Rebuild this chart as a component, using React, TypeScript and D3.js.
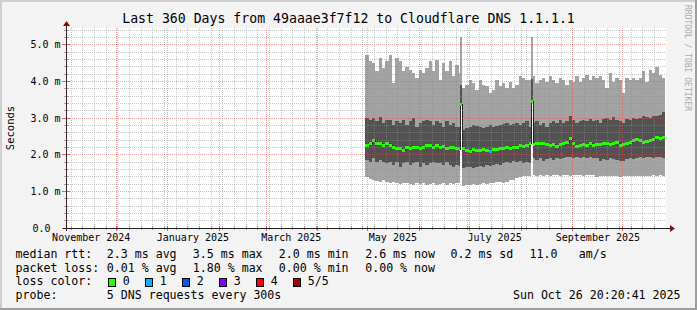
import React from 'react';
import * as d3 from 'd3';

const W = 697;
const H = 310;
const DAY = 86400000;
const START = Date.UTC(2024, 9, 31, 20, 20, 41);
const END = Date.UTC(2025, 9, 26, 20, 20, 41);
const DATA_START = Date.UTC(2025, 3, 29, 12);
const STEP_DAYS = 2;
const Y_MAX = 5.464;

// smoke top (max ping), ms
const hi = [4.73,4.55,4.50,4.28,4.64,4.37,4.55,4.73,3.96,4.64,4.55,4.28,4.41,4.32,4.23,4.09,4.32,4.23,4.37,4.55,4.28,4.60,
  4.05,4.50,4.28,4.55,4.14,4.46,4.23,3.82,3.91,4.05,3.96,3.77,4.05,3.91,3.87,3.68,3.77,4.05,3.87,3.96,3.82,4.00,3.82,3.91,
  4.14,4.09,4.05,4.05,4.14,3.96,4.05,4.09,4.00,4.14,4.05,3.96,4.09,4.05,3.91,4.05,4.00,4.14,4.00,4.09,4.19,4.05,4.14,
  4.09,4.14,4.05,3.82,4.23,4.00,4.09,4.05,3.68,4.09,4.05,4.09,4.05,4.09,4.28,4.00,4.32,4.23,4.41,4.19,4.09];
// inner smoke top
const smokeHi = [3.00,2.95,3.00,2.91,3.03,2.86,2.95,2.95,2.82,2.91,2.86,2.95,2.82,2.91,3.00,2.77,2.86,2.91,2.95,2.91,2.82,2.91,
  2.86,2.77,2.91,2.82,2.86,2.77,2.77,2.68,2.73,2.77,2.82,2.79,2.77,2.73,2.75,2.82,2.77,2.79,2.82,2.85,2.86,2.82,2.85,2.86,
  2.82,2.86,2.91,2.77,2.86,2.91,2.82,2.86,2.77,2.86,2.91,2.86,2.95,2.86,2.91,3.06,2.95,2.86,2.91,2.95,2.91,2.97,2.91,
  2.94,2.88,2.97,3.00,2.94,3.03,2.95,2.91,2.86,2.97,2.95,3.00,2.97,3.00,3.05,3.03,3.00,3.06,3.05,3.09,3.16];
// median rtt
const median = [2.27,2.32,2.41,2.32,2.32,2.27,2.32,2.27,2.22,2.18,2.18,2.13,2.22,2.18,2.22,2.22,2.18,2.22,2.27,2.27,2.22,2.27,
  2.22,2.24,2.18,2.21,2.22,2.18,2.15,2.18,2.13,2.09,2.15,2.12,2.13,2.15,2.12,2.09,2.15,2.17,2.18,2.19,2.21,2.18,2.22,2.21,
  2.27,2.24,2.27,2.32,2.30,2.32,2.33,2.32,2.30,2.27,2.30,2.24,2.30,2.33,2.36,2.45,2.33,2.24,2.27,2.30,2.27,2.32,2.27,
  2.30,2.30,2.32,2.33,2.30,2.33,2.35,2.27,2.30,2.33,2.36,2.41,2.44,2.41,2.36,2.39,2.41,2.43,2.48,2.45,2.48];
// inner smoke bottom
const smokeLo = [1.86,1.81,1.91,1.81,1.86,1.81,1.77,1.81,1.72,1.81,1.68,1.77,1.81,1.72,1.77,1.81,1.68,1.77,1.72,1.77,1.81,1.77,
  1.77,1.72,1.79,1.72,1.68,1.72,1.70,1.63,1.66,1.68,1.63,1.68,1.70,1.68,1.72,1.70,1.72,1.75,1.72,1.77,1.79,1.77,1.82,1.79,
  1.82,1.77,1.79,1.77,1.91,1.86,1.91,1.84,1.88,1.91,1.86,1.91,1.88,1.91,1.95,1.93,1.91,1.95,1.91,1.93,1.91,1.95,1.92,
  1.91,1.82,1.88,1.86,1.91,1.88,1.86,1.84,1.82,1.88,1.91,1.88,1.91,1.93,1.91,1.95,1.93,1.91,1.95,1.93,1.91];
// smoke bottom (min ping)
const lo = [1.40,1.33,1.31,1.29,1.27,1.31,1.27,1.22,1.27,1.24,1.20,1.22,1.24,1.20,1.18,1.22,1.20,1.22,1.18,1.20,1.22,1.18,
  1.20,1.22,1.18,1.22,1.20,1.24,1.22,1.15,1.18,1.17,1.20,1.18,1.20,1.22,1.20,1.22,1.24,1.25,1.27,1.24,1.27,1.30,1.31,1.36,
  1.39,1.42,1.41,1.42,1.45,1.43,1.44,1.43,1.44,1.43,1.45,1.44,1.43,1.44,1.45,1.43,1.44,1.45,1.44,1.43,1.45,1.44,1.46,
  1.39,1.41,1.42,1.41,1.42,1.41,1.42,1.39,1.41,1.42,1.43,1.42,1.41,1.43,1.42,1.43,1.42,1.45,1.43,1.45,1.42];
// lost pings per step (out of 5)
const lossPings = [0,0,0,0,0,0,0,0,0,0,0,0,0,0,0,0,0,0,0,0,0,0,
  0,0,0,0,0,0,0,0,0,0,0,0,0,0,0,1,0,0,0,0,0,0,0,0,
  0,0,0,0,0,0,0,0,0,0,0,0,0,0,0,0,0,0,0,0,0,0,0,
  0,0,0,0,0,0,0,0,0,0,0,0,0,0,0,0,0,0,0,0,0];

const spikeTimes = [Date.UTC(2025, 5, 25, 12), Date.UTC(2025, 7, 6, 20)];
const spikeHi = [5.22, 5.22];
const spikeSmokeHi = [3.91, 4.07];
const spikeMedian = [3.38, 3.48];
const SPIKE_DAYS = 1.2;

const yTicks = [0, 1, 2, 3, 4, 5];
const yTickLabels = ['0.0', '1.0 m', '2.0 m', '3.0 m', '4.0 m', '5.0 m'];
const xLabelMonths = [Date.UTC(2024, 10, 1), Date.UTC(2025, 0, 1), Date.UTC(2025, 2, 1), Date.UTC(2025, 4, 1), Date.UTC(2025, 6, 1), Date.UTC(2025, 8, 1)];
const xTickLabels = ['November 2024', 'January 2025', 'March 2025', 'May 2025', 'July 2025', 'September 2025'];

const lossColors = ['#26ff00', '#00b8ff', '#0059ff', '#7e00ff', '#ff0000', '#a10000'];
const lossLabels = ['0', '1', '2', '3', '4', '5/5'];

const legendRow1 = [['median rtt:', 15.5], ['2.3 ms avg', 106.8], ['3.5 ms max', 192.8], ['2.0 ms min', 278.8], ['2.6 ms now', 365.2], ['0.2 ms sd', 450.5], ['11.0', 529.5], ['am/s', 578.8]];
const legendRow2 = [['packet loss:', 15.5], ['0.01 % avg', 106.8], ['1.80 % max', 192.8], ['0.00 % min', 278.8], ['0.00 % now', 365.2]];

const FONT = '"DejaVu Sans Mono", monospace';

type Seg = { t0: number; t1: number; hi: number; sHi: number; med: number; sLo: number; lo: number; loss: number };

export default function App() {
  const x = d3.scaleUtc().domain([new Date(START), new Date(END)]).range([66, 666]);
  const y = d3.scaleLinear().domain([0, Y_MAX]).range([228, 28]);
  const px = (t: number) => Math.round(x(new Date(t)));
  const py = (v: number) => Math.round(y(v));

  let segs: Seg[] = median.map((m, i) => ({
    t0: DATA_START + i * STEP_DAYS * DAY,
    t1: DATA_START + (i + 1) * STEP_DAYS * DAY,
    hi: hi[i], sHi: smokeHi[i], med: m, sLo: smokeLo[i], lo: lo[i], loss: lossPings[i],
  }));
  spikeTimes.forEach((st, k) => {
    const a = st, b = st + SPIKE_DAYS * DAY;
    const out: Seg[] = [];
    segs.forEach((s) => {
      if (s.t1 <= a || s.t0 >= b) { out.push(s); return; }
      if (s.t0 < a) out.push({ ...s, t1: a });
      if (s.t1 > b) out.push({ ...s, t0: b });
    });
    out.push({ t0: a, t1: b, hi: spikeHi[k], sHi: spikeSmokeHi[k], med: spikeMedian[k], sLo: spikeMedian[k], lo: spikeMedian[k], loss: 0 });
    segs = out.sort((p, q) => p.t0 - q.t0);
  });

  let medPath = '';
  segs.forEach((s, i) => {
    const x0 = px(s.t0), x1 = px(s.t1), ym = py(s.med) + 0.5;
    medPath += (i === 0 ? `M${x0},${ym}` : `L${x0},${ym}`) + `H${x1}`;
  });

  const mondays = d3.utcMonday.range(new Date(START), new Date(END));
  const months = d3.utcMonth.range(new Date(START), new Date(END)).filter((d) => x(d) > 68);
  const minorY = d3.range(1, 28).map((k) => k * 0.2).filter((v) => Math.abs(v - Math.round(v)) > 1e-6);

  const minorColor = 'rgba(144,144,144,0.5)';
  const majorColor = 'rgba(224,80,80,0.5)';

  return (
    <svg width={W} height={H} style={{ position: 'absolute', left: 0, top: 0, display: 'block' }} fontFamily={FONT}>
      <rect x={0} y={0} width={W} height={H} fill="#f3f3f3" />
      <rect x={0} y={0} width={W} height={2} fill="#cfcfcf" />
      <rect x={0} y={0} width={2} height={H} fill="#cfcfcf" />
      <rect x={0} y={H - 2} width={W} height={2} fill="#9e9e9e" />
      <rect x={W - 2} y={0} width={2} height={H} fill="#9e9e9e" />
      <rect x={66} y={28} width={600} height={200} fill="#ffffff" />

      <g shapeRendering="crispEdges">
        {segs.map((s, i) => (
          <rect key={'l' + i} x={px(s.t0)} width={px(s.t1) - px(s.t0)} y={py(s.hi)} height={py(s.lo) - py(s.hi)} fill="#a3a3a3" />
        ))}
        {segs.map((s, i) => (
          <rect key={'d' + i} x={px(s.t0)} width={px(s.t1) - px(s.t0)} y={py(s.sHi)} height={py(s.sLo) - py(s.sHi)} fill="#525252" />
        ))}
      </g>
      <path d={medPath} fill="none" stroke="#202020" strokeWidth={1} shapeRendering="crispEdges" />
      <g shapeRendering="crispEdges">
        {segs.map((s, i) => (
          <rect key={'m' + i} x={px(s.t0)} width={px(s.t1) - px(s.t0)} y={py(s.med) - 1} height={3} fill={lossColors[s.loss]} />
        ))}
      </g>

      <g shapeRendering="crispEdges" strokeWidth={1} strokeDasharray="1,1" fill="none">
        {minorY.map((v, i) => (
          <line key={'hy' + i} x1={66} x2={666} y1={Math.floor(y(v)) + 0.5} y2={Math.floor(y(v)) + 0.5} stroke={minorColor} />
        ))}
        {mondays.map((d, i) => (
          <line key={'vx' + i} x1={Math.floor(x(d)) + 0.5} x2={Math.floor(x(d)) + 0.5} y1={28} y2={228} stroke={minorColor} />
        ))}
        {yTicks.filter((v) => v > 0).map((v, i) => (
          <line key={'Hy' + i} x1={66} x2={666} y1={Math.floor(y(v)) + 0.5} y2={Math.floor(y(v)) + 0.5} stroke={majorColor} />
        ))}
        {months.map((d, i) => (
          <line key={'Vx' + i} x1={Math.floor(x(d)) + 0.5} x2={Math.floor(x(d)) + 0.5} y1={28} y2={228} stroke={majorColor} />
        ))}
      </g>

      <g shapeRendering="crispEdges">
        {mondays.map((d, i) => (
          <line key={'tx' + i} x1={Math.floor(x(d)) + 0.5} x2={Math.floor(x(d)) + 0.5} y1={226} y2={230} stroke="rgba(144,144,144,0.8)" />
        ))}
        {months.map((d, i) => (
          <line key={'Tx' + i} x1={Math.floor(x(d)) + 0.5} x2={Math.floor(x(d)) + 0.5} y1={226} y2={231} stroke="rgba(224,80,80,0.9)" />
        ))}
        {minorY.map((v, i) => (
          <line key={'ty' + i} x1={64} x2={69} y1={Math.floor(y(v)) + 0.5} y2={Math.floor(y(v)) + 0.5} stroke="rgba(144,144,144,0.8)" />
        ))}
        {yTicks.map((v, i) => (
          <line key={'Ty' + i} x1={62} x2={70} y1={Math.floor(y(v)) + 0.5} y2={Math.floor(y(v)) + 0.5} stroke="rgba(224,80,80,0.9)" />
        ))}
        <line x1={63} x2={670} y1={228.5} y2={228.5} stroke="#202020" />
        <line x1={66.5} x2={66.5} y1={231} y2={24} stroke="#3a2020" />
      </g>
      <path d="M670,225 L675,228.5 L670,232 Z" fill="#801010" />
      <path d="M63,26 L66.5,21 L70,26 Z" fill="#801010" />

      {yTicks.map((v, i) => (
        <text key={'yl' + i} x={v === 0 ? 50.5 : 60.5} y={Math.floor(y(v)) + 4} fontSize={10} textAnchor="end" fill="#000">{yTickLabels[i]}</text>
      ))}
      {xLabelMonths.map((t, i) => (
        <text key={'xl' + i} x={x(new Date(t + 15 * DAY))} y={241} fontSize={10} textAnchor="middle" fill="#000">{xTickLabels[i]}</text>
      ))}

      <text x={348.5} y={23} fontSize={13.2} textAnchor="middle" fill="#000">Last 360 Days from 49aaae3f7f12 to Cloudflare DNS 1.1.1.1</text>
      <text transform="translate(13.5,128) rotate(-90)" fontSize={10.5} textAnchor="middle" fill="#000">Seconds</text>
      <text transform="translate(685,5) rotate(90)" fontSize={8} fill="#aaaaaa">RRDTOOL / TOBI OETIKER</text>

      <g fontSize={11.6} fill="#000" style={{ whiteSpace: 'pre' }}>
        {legendRow1.map((r, i) => (<text key={'r1' + i} x={r[1] as number} y={258}>{r[0]}</text>))}
        {legendRow2.map((r, i) => (<text key={'r2' + i} x={r[1] as number} y={271.5}>{r[0]}</text>))}
        <text x={15.5} y={285}>loss color:</text>
        {lossColors.map((c, i) => (
          <g key={'lc' + i}>
            <rect x={108.5 + i * 37} y={278.5} width={7} height={8} fill={c} stroke="#000" strokeWidth={1} shapeRendering="crispEdges" />
            <text x={122.8 + i * 37} y={285}>{lossLabels[i]}</text>
          </g>
        ))}
        <text x={15.5} y={298.5}>probe:</text>
        <text x={106.8} y={298.5}>5 DNS requests every 300s</text>
        <text x={680.5} y={298.5} textAnchor="end">Sun Oct 26 20:20:41 2025</text>
      </g>
    </svg>
  );
}
